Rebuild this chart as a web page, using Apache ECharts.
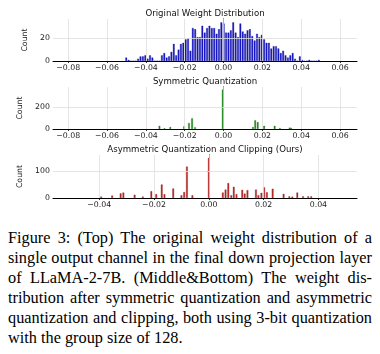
<!DOCTYPE html>
<html>
<head>
<meta charset="utf-8">
<script src="https://cdn.jsdelivr.net/npm/echarts@6/dist/echarts.min.js"></script>
<style>
  html, body { margin: 0; padding: 0; background: #fff; }
  #chart { position: absolute; left: 0; top: 0; width: 380px; height: 222px; }
  #caption { position: absolute; left: 8px; top: 228px; width: 364px;
    font-family: 'Liberation Serif', 'Times New Roman', serif; font-size: 16.3px;
    line-height: 20px; color: #000; }
  #caption .j { text-align: justify; text-align-last: justify; white-space: nowrap; }
</style>
</head>
<body>
<div id="chart"></div>
<div id="caption">
  <div class="j">Figure 3: (Top) The original weight distribution of a</div>
  <div class="j">single output channel in the final down projection layer</div>
  <div class="j">of LLaMA-2-7B. (Middle&amp;Bottom) The weight dis-</div>
  <div class="j">tribution after symmetric quantization and asymmetric</div>
  <div class="j">quantization and clipping, both using 3-bit quantization</div>
  <div>with the group size of 128.</div>
</div>
<script>
// titles of the three panels
const titles = ['Original Weight Distribution', 'Symmetric Quantization', 'Asymmetric Quantization and Clipping (Ours)'];

// top: histogram of original weights (bin centres start at binStart, step binWidth)
const binStart = -0.0501;
const binWidth = 0.001224;
const origCounts = [3, 1, 0, 0, 0, 2, 4, 4, 5, 2, 5, 3, 0, 0, 0, 5, 7, 3, 4, 8,
  15, 5, 10, 15, 16, 19, 20, 9, 29, 28, 21, 21, 31, 25, 29, 31, 29, 29, 24, 28,
  34, 33, 25, 25, 27, 34, 25, 21, 33, 26, 24, 27, 28, 22, 18, 24, 21, 23, 19, 16,
  16, 11, 13, 13, 11, 7, 9, 5, 3, 5, 7, 2, 0, 4, 1, 0, 0, 1, 0, 0, 0, 1];

// middle: symmetric quantization
const symX = [-0.0330, -0.0304, -0.0274, -0.0203, -0.0178, -0.0162, -0.0147, -0.0004,
  0.0151, 0.0163, 0.0176, 0.0209, 0.0263, 0.0290, 0.0340, 0.0348];
const symCount = [28, 6, 18, 25, 55, 98, 15, 360, 18, 80, 62, 28, 28, 9, 12, 10];

// bottom: asymmetric quantization and clipping
const asymX = [-0.0393, -0.0353, -0.0322, -0.0312, -0.0271, -0.0241, -0.0210, -0.0192,
  -0.0172, -0.0162, -0.0130, -0.0100, -0.0090, -0.0080, -0.0060, 0.0000,
  0.0051, 0.0061, 0.0071, 0.0082, 0.0091, 0.0101, 0.0122, 0.0131, 0.0141,
  0.0172, 0.0181, 0.0192, 0.0202, 0.0212, 0.0233, 0.0273, 0.0294, 0.0305,
  0.0323, 0.0344, 0.0363, 0.0374];
const asymCount = [5, 9, 17, 20, 12, 5, 25, 14, 50, 14, 35, 10, 22, 116, 10, 148,
  20, 31, 55, 10, 41, 14, 30, 16, 29, 31, 10, 19, 39, 21, 34, 15, 6, 5,
  20, 6, 6, 6];

// tick labels
const xTicksWide = [-0.08, -0.06, -0.04, -0.02, 0.00, 0.02, 0.04, 0.06];
const xTicksNarrow = [-0.04, -0.02, 0.00, 0.02, 0.04];
const yTicksTop = [0, 20];
const yTicksMid = [0, 200];
const yTicksBot = [0, 100];

const font = 'DejaVu Sans';
const tickFmt = v => (v < -1e-9 ? '\u2212' : '') + Math.abs(v).toFixed(2);

function xAxis(gi, min, max, ticks) {
  return {
    type: 'value', gridIndex: gi, min: min, max: max,
    axisLine: { show: true, onZero: false, lineStyle: { color: '#000', width: 1 } },
    axisTick: { show: true, length: 2, customValues: ticks, lineStyle: { color: '#000', width: 0.8 } },
    axisLabel: { customValues: ticks, formatter: tickFmt, fontSize: 7.8, margin: 3, color: '#1a1a1a', fontFamily: font },
    splitLine: { show: false }
  };
}

function yAxis(gi, max, ticks, gap) {
  return {
    type: 'value', gridIndex: gi, min: 0, max: max,
    name: 'Count', nameLocation: 'middle', nameGap: gap,
    nameTextStyle: { fontSize: 7.8, color: '#1a1a1a', fontFamily: font },
    axisLine: { show: true, lineStyle: { color: '#000', width: 1 } },
    axisTick: { show: true, length: 2, customValues: ticks, lineStyle: { color: '#000', width: 0.8 } },
    axisLabel: { customValues: ticks, fontSize: 7.8, margin: 3, color: '#1a1a1a', fontFamily: font },
    splitLine: { show: false }
  };
}

function gridMarks(xt, yt) {
  return {
    silent: true, symbol: ['none', 'none'], label: { show: false }, animation: false,
    lineStyle: { color: '#dedede', width: 0.8, type: 'solid' },
    data: xt.map(v => ({ xAxis: v })).concat(yt.filter(v => v > 0).map(v => ({ yAxis: v })))
  };
}

const chart = echarts.init(document.getElementById('chart'));
chart.setOption({
  animation: false,
  backgroundColor: '#fff',
  grid: [
    { left: 53, top: 19, width: 304, height: 42 },
    { left: 53, top: 87, width: 304, height: 42 },
    { left: 53, top: 155, width: 304, height: 43 }
  ],
  xAxis: [
    xAxis(0, -0.0878, 0.0687, xTicksWide),
    xAxis(1, -0.0878, 0.0687, xTicksWide),
    xAxis(2, -0.0569, 0.0541, xTicksNarrow)
  ],
  yAxis: [
    yAxis(0, 37, yTicksTop, 16),
    yAxis(1, 384, yTicksMid, 20),
    yAxis(2, 159, yTicksBot, 20)
  ],
  graphic: [
    { type: 'text', x: 205, y: 13.5, style: { text: titles[0], align: 'center', verticalAlign: 'middle', fontSize: 8.6, fontFamily: font, fill: '#111' } },
    { type: 'text', x: 205, y: 82, style: { text: titles[1], align: 'center', verticalAlign: 'middle', fontSize: 8.6, fontFamily: font, fill: '#111' } },
    { type: 'text', x: 205, y: 150, style: { text: titles[2], align: 'center', verticalAlign: 'middle', fontSize: 8.6, fontFamily: font, fill: '#111' } }
  ],
  series: [
    {
      type: 'bar', xAxisIndex: 0, yAxisIndex: 0, barWidth: 1.7,
      data: origCounts.map((c, i) => [binStart + i * binWidth, c]),
      itemStyle: { color: '#1a1ad0', borderColor: '#0a0a80', borderWidth: 0.3 },
      markLine: gridMarks(xTicksWide, yTicksTop)
    },
    {
      type: 'bar', xAxisIndex: 1, yAxisIndex: 1, barWidth: 1.6,
      data: symX.map((x, i) => [x, symCount[i]]),
      itemStyle: { color: '#1a901a', borderColor: '#0b5e0b', borderWidth: 0.3 },
      markLine: gridMarks(xTicksWide, yTicksMid)
    },
    {
      type: 'bar', xAxisIndex: 2, yAxisIndex: 2, barWidth: 1.7,
      data: asymX.map((x, i) => [x, asymCount[i]]),
      itemStyle: { color: '#c42a2a', borderColor: '#7a1010', borderWidth: 0.3 },
      markLine: gridMarks(xTicksNarrow, yTicksBot)
    }
  ]
});
</script>
</body>
</html>
